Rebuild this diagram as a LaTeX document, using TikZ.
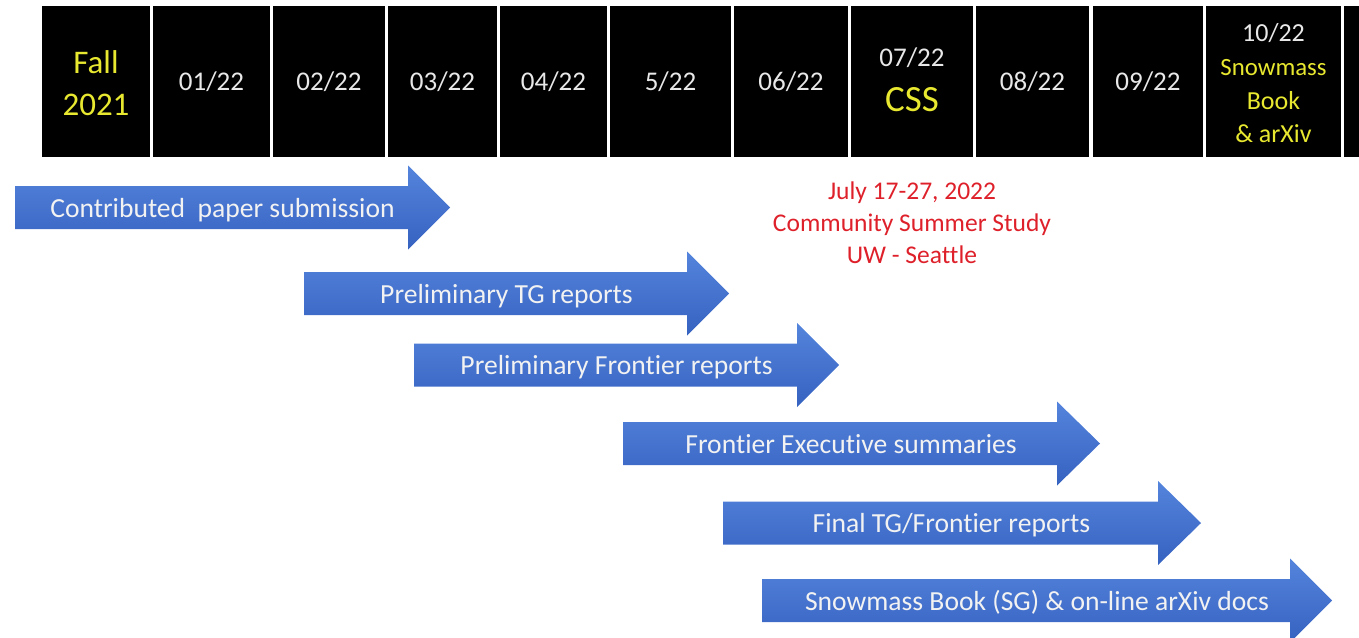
\documentclass[tikz,border=0pt]{standalone}
\usepackage{fontspec}
\setmainfont{Carlito}[Ligatures=NoCommon]
\definecolor{yel}{RGB}{232,232,48}
\definecolor{wht}{RGB}{232,232,232}
\definecolor{redt}{RGB}{222,32,42}
\definecolor{blutop}{RGB}{84,132,220}
\definecolor{blubot}{RGB}{54,98,192}
\newcommand{\fs}[2]{\fontsize{#1}{#2}\selectfont}
\begin{document}
\begin{tikzpicture}[x=1pt,y=-1pt,
  hbox/.style={fill=black,draw=none,inner sep=0pt,minimum height=151pt},
  hlab/.style={inner sep=0pt,text depth=0pt,text=wht},
  alab/.style={inner sep=0pt,text height=17.4pt,text depth=0pt,text={rgb,255:red,242;green,242;blue,242},font=\fs{27.6}{33}},
  arrowfill/.style={top color=blutop,bottom color=blubot,draw=none}
]
\useasboundingbox (0,0) rectangle (1359,637);
\clip (0,0) rectangle (1359,637);
% header boxes
\newcommand{\hb}[3]{\node[hbox,minimum width={#3-#2}] (#1) at ({(#2+#3)/2},81.5) {};}
\hb{fall}{42}{150}
\hb{m01}{153}{270}
\hb{m02}{273}{385}
\hb{m03}{388}{497}
\hb{m04}{500}{607}
\hb{m05}{610}{731}
\hb{m06}{734}{848}
\hb{m07}{851}{973}
\hb{m08}{976}{1089}
\hb{m09}{1093}{1203}
\hb{m10}{1206}{1341}
\hb{m11}{1344}{1380}
% header labels
\node[hlab,text=yel,text height=20.8pt,font=\fs{33}{40}] (fallA) at (96,63) {Fall};
\node[hlab,text=yel,text height=20.8pt,font=\fs{33}{40}] (fallB) at (96,105) {2021};
\node[hlab,text height=17pt,font=\fs{27}{33}] (t01) at (m01) {01/22};
\node[hlab,text height=17pt,font=\fs{27}{33}] (t02) at (m02) {02/22};
\node[hlab,text height=17pt,font=\fs{27}{33}] (t03) at (m03) {03/22};
\node[hlab,text height=17pt,font=\fs{27}{33}] (t04) at (m04) {04/22};
\node[hlab,text height=17pt,font=\fs{27}{33}] (t05) at (m05) {5/22};
\node[hlab,text height=17pt,font=\fs{27}{33}] (t06) at (m06) {06/22};
\node[hlab,text height=17pt,font=\fs{27}{33}] (t07) at (912,58) {07/22};
\node[hlab,text=yel,text height=23.5pt,font=\fs{37}{40}] (css) at (912,100) {CSS};
\node[hlab,text height=17pt,font=\fs{27}{33}] (t08) at (m08) {08/22};
\node[hlab,text height=17pt,font=\fs{27}{33}] (t09) at (m09) {09/22};
\node[hlab,text height=16.4pt,font=\fs{26}{33}] (t10) at (1273.5,33) {10/22};
\node[hlab,text=yel,text height=15.6pt,font=\fs{24.8}{33}] (snow) at (1273.5,68) {Snowmass};
\node[hlab,text=yel,text height=16.4pt,font=\fs{26}{33}] (book) at (1273.5,101) {Book};
\node[hlab,text=yel,text height=16.4pt,font=\fs{26}{33}] (arx) at (1273.5,134) {\& arXiv};
% red note
\node[inner sep=0pt,align=center,text=redt,font=\fs{25.5}{32}] (css note) at (912,223)
  {July 17-27, 2022\\Community Summer Study\\UW - Seattle};
% arrows: left, head base, tip, mid
\newcommand{\barrow}[6]{%
  \path[arrowfill] (#1,#4-21.5) -- (#2,#4-21.5) -- (#2,#4-42) -- (#3,#4) -- (#2,#4+42) -- (#2,#4+21.5) -- (#1,#4+21.5) -- cycle;
  \node[alab] (#5) at ({(#1+#2)/2+11},#4+1) {#6};}
\barrow{15}{408}{450}{207.5}{a1}{Contributed\ \ paper submission}
\barrow{304}{687}{729}{293.5}{a2}{Preliminary TG reports}
\barrow{414}{797}{839}{365}{a3}{Preliminary Frontier reports}
\barrow{623}{1057}{1100}{443.5}{a4}{Frontier Executive summaries}
\barrow{723}{1158}{1201}{523}{a5}{Final TG/Frontier reports}
\barrow{762}{1290}{1332}{600.5}{a6}{Snowmass Book (SG) \& on-line arXiv docs}
\end{tikzpicture}
\end{document}
